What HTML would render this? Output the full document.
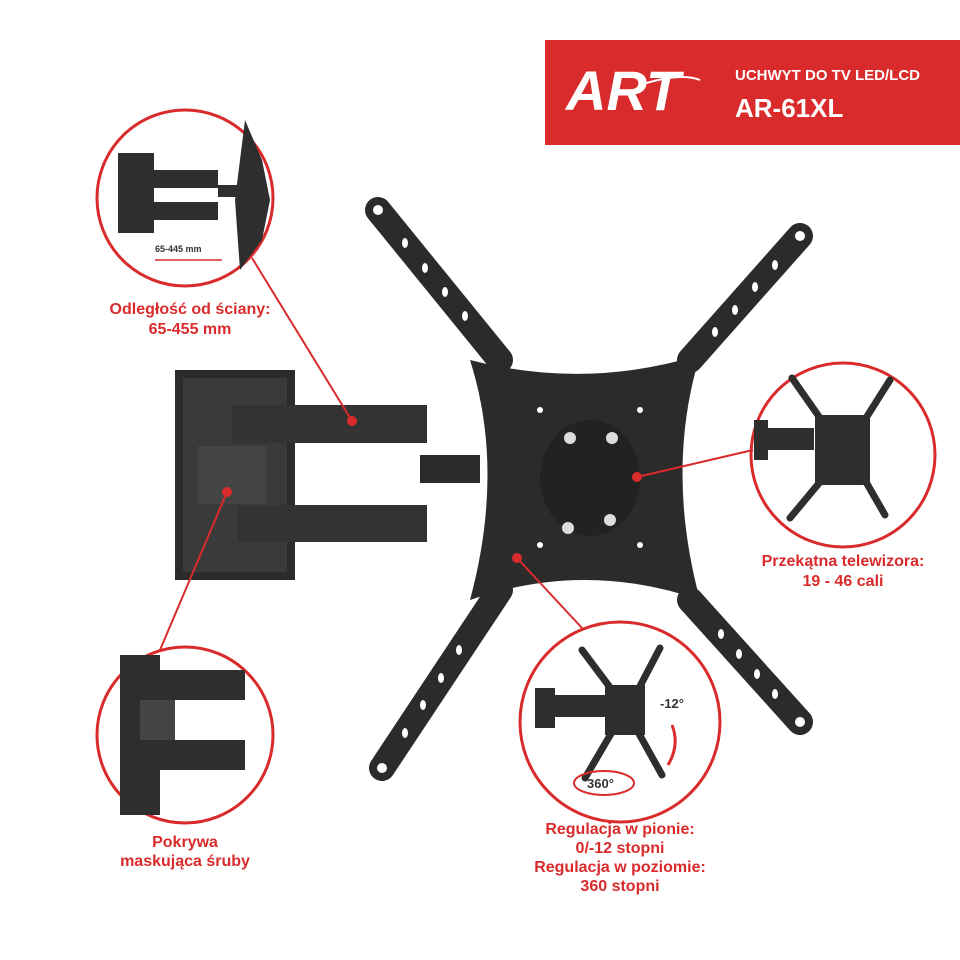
<!DOCTYPE html>
<html><head><meta charset="utf-8"><style>
html,body{margin:0;padding:0;background:#fff;}
svg{display:block;}
text{font-family:"Liberation Sans",sans-serif;font-weight:bold;}
</style></head><body>
<svg width="960" height="960" viewBox="0 0 960 960" xmlns="http://www.w3.org/2000/svg">
<rect width="960" height="960" fill="#fff"/>
<!-- banner -->
<rect x="545" y="40" width="415" height="105" fill="#d92b2b"/>
<text x="566" y="110" font-family="Liberation Serif" font-style="italic" font-weight="normal" font-size="56" fill="#fff">ART</text>
<path d="M640 85 Q680 72 700 80" stroke="#fff" stroke-width="2" fill="none"/>
<text x="735" y="80" font-size="15" fill="#fff">UCHWYT DO TV LED/LCD</text>
<text x="735" y="117" font-size="26" fill="#fff">AR-61XL</text>

<!-- main mount -->
<g fill="#2b2b2b">
<rect x="175" y="370" width="120" height="210"/>
<rect x="183" y="378" width="104" height="194" fill="#3a3a3a"/>
<rect x="232" y="405" width="195" height="38" fill="#333"/>
<rect x="237" y="505" width="190" height="37" fill="#333"/>
<rect x="198" y="446" width="68" height="58" fill="#444"/>
<rect x="420" y="455" width="60" height="28"/>
<g stroke="#2b2b2b" stroke-width="26" stroke-linecap="round">
<line x1="378" y1="210" x2="500" y2="360"/>
<line x1="800" y1="236" x2="690" y2="360"/>
<line x1="382" y1="768" x2="500" y2="590"/>
<line x1="800" y1="722" x2="690" y2="600"/>
</g>
<path d="M470 360 Q585 390 700 355 Q665 470 700 600 Q585 560 470 600 Q505 470 470 360Z"/>
<ellipse cx="590" cy="478" rx="50" ry="58" fill="#222"/>
</g>
<g fill="#fff">
<circle cx="378" cy="210" r="5"/><circle cx="800" cy="236" r="5"/>
<circle cx="382" cy="768" r="5"/><circle cx="800" cy="722" r="5"/>
<circle cx="570" cy="438" r="6" fill="#ddd"/><circle cx="612" cy="438" r="6" fill="#ddd"/>
<circle cx="568" cy="528" r="6" fill="#ddd"/><circle cx="610" cy="520" r="6" fill="#ddd"/>
<!-- arm slots -->
<g>
<ellipse cx="405" cy="243" rx="3" ry="5"/><ellipse cx="425" cy="268" rx="3" ry="5"/><ellipse cx="445" cy="292" rx="3" ry="5"/><ellipse cx="465" cy="316" rx="3" ry="5"/>
<ellipse cx="775" cy="265" rx="3" ry="5"/><ellipse cx="755" cy="287" rx="3" ry="5"/><ellipse cx="735" cy="310" rx="3" ry="5"/><ellipse cx="715" cy="332" rx="3" ry="5"/>
<ellipse cx="405" cy="733" rx="3" ry="5"/><ellipse cx="423" cy="705" rx="3" ry="5"/><ellipse cx="441" cy="678" rx="3" ry="5"/><ellipse cx="459" cy="650" rx="3" ry="5"/>
<ellipse cx="775" cy="694" rx="3" ry="5"/><ellipse cx="757" cy="674" rx="3" ry="5"/><ellipse cx="739" cy="654" rx="3" ry="5"/><ellipse cx="721" cy="634" rx="3" ry="5"/>
<circle cx="540" cy="410" r="3"/><circle cx="640" cy="410" r="3"/><circle cx="540" cy="545" r="3"/><circle cx="640" cy="545" r="3"/>
</g>
</g>

<!-- inset circles -->
<g fill="#fff" stroke="#d92b2b" stroke-width="3">
<circle cx="185" cy="198" r="88"/>
<circle cx="185" cy="735" r="88"/>
<circle cx="843" cy="455" r="92"/>
<circle cx="620" cy="722" r="100"/>
</g>
<g fill="#2e2e2e">
<rect x="118" y="153" width="36" height="80"/>
<rect x="140" y="170" width="78" height="18"/><rect x="140" y="202" width="78" height="18"/>
<rect x="218" y="185" width="30" height="12"/>
<path d="M245 120 L262 160 L270 200 L262 240 L240 270 L235 200Z"/>
<rect x="120" y="655" width="40" height="160"/>
<rect x="155" y="670" width="90" height="30"/><rect x="155" y="740" width="90" height="30"/>
<rect x="140" y="700" width="35" height="40" fill="#444"/>
<rect x="754" y="420" width="14" height="40"/><rect x="764" y="428" width="50" height="22"/>
<path d="M815 415 L870 415 L870 485 L815 485Z"/>
<g stroke="#2e2e2e" stroke-width="7" stroke-linecap="round">
<line x1="792" y1="378" x2="820" y2="418"/><line x1="890" y1="380" x2="866" y2="418"/>
<line x1="790" y1="518" x2="820" y2="482"/><line x1="885" y1="515" x2="866" y2="482"/>
<line x1="582" y1="650" x2="612" y2="690"/><line x1="660" y1="648" x2="638" y2="690"/>
<line x1="585" y1="778" x2="612" y2="732"/><line x1="662" y1="775" x2="638" y2="732"/>
</g>
<rect x="535" y="688" width="20" height="40"/><rect x="548" y="695" width="58" height="22"/>
<path d="M605 685 L645 685 L645 735 L605 735Z"/>
</g>
<text x="155" y="252" font-size="9" fill="#333">65-445 mm</text>
<line x1="155" y1="260" x2="222" y2="260" stroke="#d92b2b" stroke-width="1.5"/>
<text x="660" y="708" font-size="13" fill="#333">-12°</text>
<text x="587" y="788" font-size="13" fill="#333">360°</text>
<ellipse cx="604" cy="783" rx="30" ry="12" fill="none" stroke="#d92b2b" stroke-width="2"/>
<path d="M672 725 Q680 745 668 765" fill="none" stroke="#d92b2b" stroke-width="3"/>

<g stroke="#d92b2b" stroke-width="2">
<line x1="352" y1="421" x2="252" y2="258"/>
<line x1="227" y1="492" x2="160" y2="650"/>
<line x1="637" y1="477" x2="753" y2="450"/>
<line x1="517" y1="558" x2="582" y2="628"/>
</g>
<g fill="#d92b2b">
<circle cx="352" cy="421" r="5"/><circle cx="227" cy="492" r="5"/>
<circle cx="637" cy="477" r="5"/><circle cx="517" cy="558" r="5"/>
</g>

<g fill="#d92b2b" font-size="16" text-anchor="middle">
<text x="190" y="314">Odległość od ściany:</text>
<text x="190" y="334">65-455 mm</text>
<text x="185" y="847">Pokrywa</text>
<text x="185" y="866">maskująca śruby</text>
<text x="843" y="566">Przekątna telewizora:</text>
<text x="843" y="586">19 - 46 cali</text>
<text x="620" y="834">Regulacja w pionie:</text>
<text x="620" y="853">0/-12 stopni</text>
<text x="620" y="872">Regulacja w poziomie:</text>
<text x="620" y="891">360 stopni</text>
</g>
</svg>
</body></html>
